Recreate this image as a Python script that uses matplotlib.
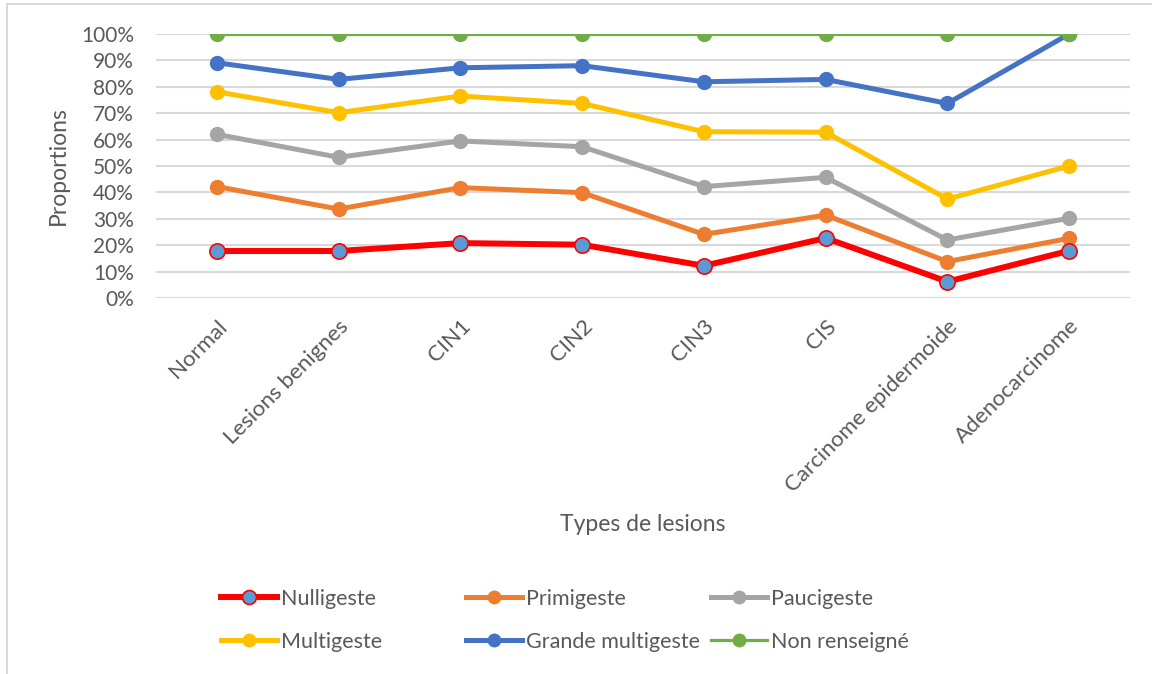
import matplotlib
matplotlib.use('Agg')
import matplotlib.pyplot as plt
from matplotlib.ticker import PercentFormatter
from matplotlib.lines import Line2D
from matplotlib.patches import Rectangle

plt.rcParams['font.family'] = ['Lato', 'DejaVu Sans']

# Lesion types on the x axis
categories = ['Normal', 'Lesions benignes', 'CIN1', 'CIN2', 'CIN3', 'CIS',
              'Carcinome epidermoide', 'Adenocarcinome']

# Cumulative proportions (%) per parity group
nulligeste = [17.8, 17.8, 20.8, 20.2, 12.2, 22.7, 6.2, 17.9]
primigeste = [42.2, 33.7, 41.8, 39.9, 24.1, 31.4, 13.8, 22.6]
paucigeste = [62.0, 53.3, 59.5, 57.3, 42.2, 45.7, 22.0, 30.2]
multigeste = [78.1, 70.2, 76.5, 73.7, 63.0, 62.8, 37.5, 50.0]
grande_multigeste = [89.1, 82.8, 87.2, 88.0, 81.9, 82.8, 73.7, 100.0]
non_renseigne = [100, 100, 100, 100, 100, 100, 100, 100]

series_names = ['Nulligeste', 'Primigeste', 'Paucigeste',
                'Multigeste', 'Grande multigeste', 'Non renseigné']

txt = '#595959'
W, H = 1152, 674

fig = plt.figure(figsize=(W / 100, H / 100), dpi=100)
ax = fig.add_axes([156 / W, 1 - 298 / H, (1130 - 156) / W, 264 / H])

x = list(range(len(categories)))

# series styles: (data, line colour, face colour, edge colour, line width, zorder)
styles = [
    (nulligeste, '#FF0000', '#5B9BD5', '#FF0000', 4.3, 10),
    (primigeste, '#ED7D31', '#ED7D31', '#ED7D31', 3.6, 4),
    (paucigeste, '#A5A5A5', '#A5A5A5', '#A5A5A5', 3.6, 4),
    (multigeste, '#FFC000', '#FFC000', '#FFC000', 3.6, 4),
    (grande_multigeste, '#4472C4', '#4472C4', '#4472C4', 3.6, 5),
    (non_renseigne, '#70AD47', '#70AD47', '#70AD47', 2.3, 6),
]

handles = []
for name, (vals, col, face, edge, lw, z) in zip(series_names, styles):
    mew = 1.2 if face != edge else 0
    ax.plot(x, vals, '-o', color=col, lw=lw, markersize=11,
            markerfacecolor=face, markeredgecolor=edge,
            markeredgewidth=mew, zorder=z)
    handles.append(Line2D([], [], color=col, lw=lw, marker='o', markersize=10,
                          markerfacecolor=face, markeredgecolor=edge,
                          markeredgewidth=mew))

ax.set_xlim(-0.5, len(categories) - 0.5)
ax.set_ylim(0, 100)
ax.set_yticks(range(0, 101, 10))
ax.yaxis.set_major_formatter(PercentFormatter(decimals=0))
ax.grid(axis='y', color='#D9D9D9', lw=1.5)
ax.set_axisbelow(True)
for s in ax.spines.values():
    s.set_visible(False)
ax.tick_params(axis='both', length=0, colors=txt)
ax.tick_params(axis='y', pad=16, labelsize=15)
ax.set_xticks(x)
ax.set_xticklabels(categories, rotation=45, ha='right', rotation_mode='anchor')
ax.tick_params(axis='x', pad=13, labelsize=16)

ax.set_ylabel('Proportions', fontsize=16.5, color=txt)
ax.yaxis.set_label_coords((69 - 156) / (1130 - 156), 0.5)
ax.set_xlabel('Types de lesions', fontsize=16.5, color=txt)
ax.xaxis.set_label_coords((643 - 156) / (1130 - 156), (298 - 514) / 264)

# legend: one column per block, two rows each
col_x = [221, 466, 711]
for c, cx in enumerate(col_x):
    idx = [c, c + 3]
    leg = fig.legend([handles[i] for i in idx], [series_names[i] for i in idx],
                     loc='upper left', bbox_to_anchor=(cx / W, 1 - 589 / H),
                     frameon=False, fontsize=15.5, labelcolor=txt,
                     handlelength=2.6, handletextpad=0.2, labelspacing=1.05,
                     borderaxespad=0, borderpad=0)

# outer chart frame
fig.patches.append(Rectangle((7 / W, -0.01), 1.2, 1 - 4 / H + 0.01,
                             transform=fig.transFigure, fill=False,
                             edgecolor='#D9D9D9', lw=1.5))

fig.savefig('out.png', dpi=100)
